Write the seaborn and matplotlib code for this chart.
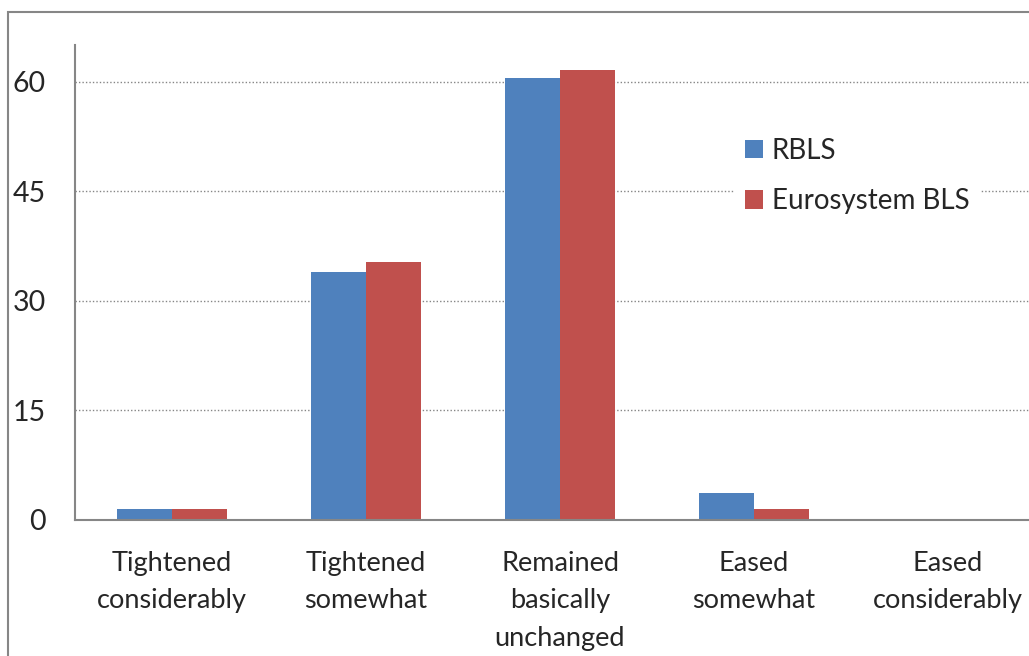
import numpy as np
import pandas as pd
import matplotlib
matplotlib.use("Agg")
import matplotlib.pyplot as plt
from matplotlib.patches import Rectangle
import seaborn as sns

categories = ["Tightened\nconsiderably", "Tightened\nsomewhat",
              "Remained\nbasically\nunchanged", "Eased\nsomewhat",
              "Eased\nconsiderably"]
rbls = [1.5, 33.9, 60.5, 3.7, 0.0]
eurosystem_bls = [1.5, 35.3, 61.6, 1.5, 0.0]
series_names = ["RBLS", "Eurosystem BLS"]
yticks = [0, 15, 30, 45, 60]

df = pd.DataFrame({
    "category": categories * 2,
    "value": rbls + eurosystem_bls,
    "series": [series_names[0]] * len(categories) + [series_names[1]] * len(categories),
})

sns.set_style("white")
plt.rcParams["font.family"] = ["Lato", "DejaVu Sans"]

GRAY = "#868686"
BLUE = "#4F81BD"
RED = "#C0504D"

fig = plt.figure(figsize=(10.29, 6.56), dpi=100)
ax = fig.add_axes([75 / 1029, 136 / 656, 970 / 1029, 475 / 656])

sns.barplot(data=df, x="category", y="value", hue="series",
            palette=[BLUE, RED], saturation=1, width=0.567, gap=0,
            ax=ax, linewidth=0)

ax.set_xlim(-0.5, 4.5)
ax.set_ylim(0, 65)
ax.set_yticks(yticks)
ax.set_xlabel("")
ax.set_ylabel("")

ax.set_axisbelow(True)
ax.yaxis.grid(True, linestyle=(0, (1, 1.5)), color=GRAY, linewidth=1)
ax.xaxis.grid(False)

for side in ["top", "right"]:
    ax.spines[side].set_visible(False)
for side in ["left", "bottom"]:
    ax.spines[side].set_color(GRAY)
    ax.spines[side].set_linewidth(1.5)

ax.set_xticks(np.arange(-0.5, 5, 1), minor=True)
ax.tick_params(axis="x", which="major", length=0, pad=22, labelsize=19.5)
ax.tick_params(axis="x", which="minor", length=7.5, width=1.5, color=GRAY,
               direction="out")
ax.tick_params(axis="y", which="major", length=7, width=1.5, color=GRAY,
               direction="out", pad=14, labelsize=20.5)
for lbl in ax.get_xticklabels():
    lbl.set_linespacing(1.64)
    lbl.set_verticalalignment("top")

leg = ax.legend(loc="upper left", bbox_to_anchor=(734 / 1029, 1 - 127 / 656),
                bbox_transform=fig.transFigure, frameon=True, fancybox=False,
                facecolor="white", edgecolor="none", fontsize=20,
                handlelength=0.63, handleheight=0.63, handletextpad=0.32,
                labelspacing=0.87, borderaxespad=0, borderpad=0.4)
leg.get_frame().set_alpha(1)

fig.patches.append(Rectangle((8 / 1029, -0.1), 1.2, (656 - 12) / 656 + 0.1,
                             transform=fig.transFigure, fill=False,
                             edgecolor=GRAY, linewidth=1.5))

fig.savefig("out.png", dpi=100)
